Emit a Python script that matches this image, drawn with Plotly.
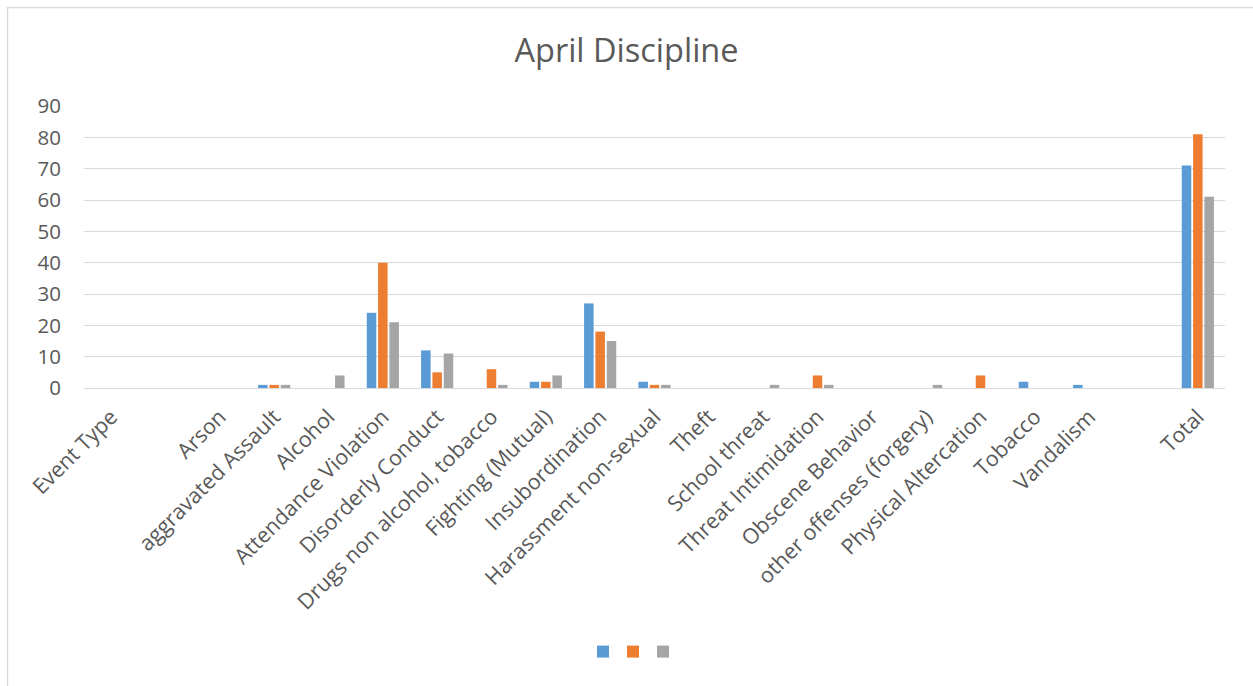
import plotly.graph_objects as go

categories = ["Event Type", " ", "Arson", "aggravated Assault", "Alcohol", "Attendance Violation",
              "Disorderly Conduct", "Drugs non alcohol, tobacco", "Fighting (Mutual)", "Insubordination",
              "Harassment non-sexual", "Theft", "School threat", "Threat Intimidation", "Obscene Behavior",
              "other offenses (forgery)", "Physical Altercation", "Tobacco", "Vandalism", "  ", "Total"]
series_blue = [None, None, 0, 1, 0, 24, 12, 0, 2, 27, 2, 0, 0, 0, 0, 0, 0, 2, 1, None, 71]
series_orange = [None, None, 0, 1, 0, 40, 5, 6, 2, 18, 1, 0, 0, 4, 0, 0, 4, 0, 0, None, 81]
series_gray = [None, None, 0, 1, 4, 21, 11, 1, 4, 15, 1, 0, 1, 1, 0, 1, 0, 0, 0, None, 61]
y_ticks = [0, 10, 20, 30, 40, 50, 60, 70, 80, 90]

colors = ["#5B9BD5", "#ED7D31", "#A5A5A5"]
legend_ids = ["legend", "legend2", "legend3"]
legend_centers = [603, 633, 663]
FONT = "Open Sans"
TXT = "#595959"

xidx = list(range(len(categories)))

W, H = 1253, 686
L, R, T, B = 83.5, 27.5, 105.5, 298

fig = go.Figure()
for vals, col, lg in zip([series_blue, series_orange, series_gray], colors, legend_ids):
    fig.add_trace(go.Bar(x=xidx, y=vals, name="", marker=dict(color=col, line=dict(width=0)),
                         showlegend=True, legend=lg))

legend_layout = {}
for lg, cx in zip(legend_ids, legend_centers):
    legend_layout[lg] = dict(orientation="h", xref="container", yref="container",
                             x=(cx - 20) / W, xanchor="left", y=1 - 652 / H, yanchor="middle",
                             itemwidth=30, font=dict(size=14, color=TXT),
                             bgcolor="rgba(0,0,0,0)", borderwidth=0)

fig.update_layout(
    width=W, height=H,
    margin=dict(l=L, r=R, t=T, b=B, pad=0),
    paper_bgcolor="white", plot_bgcolor="white",
    barmode="group", bargap=0.375, bargroupgap=0.16,
    title=dict(text="April Discipline", x=0.5, xref="container", xanchor="center",
               y=1 - 51 / H, yanchor="middle",
               font=dict(family=FONT, size=32.5, color=TXT)),
    font=dict(family=FONT, color=TXT),
    xaxis=dict(tickmode="array", tickvals=xidx, ticktext=categories, tickangle=-45,
               range=[-0.5, len(categories) - 0.5],
               showgrid=False, showline=False, zeroline=False, ticks="",
               ticklabelstandoff=11,
               tickfont=dict(family=FONT, size=21.5, color=TXT)),
    yaxis=dict(range=[0, 90], tickvals=y_ticks, showgrid=True, gridcolor="#D9D9D9", gridwidth=1.4,
               zeroline=True, zerolinecolor="#D9D9D9", zerolinewidth=1.4,
               showline=False, ticks="", ticklabelstandoff=22,
               tickfont=dict(family=FONT, size=20.5, color=TXT)),
    **legend_layout,
)

# chart frame (decorative border of the chart area)
fig.add_shape(type="rect", xref="paper", yref="paper",
              x0=(7 - L) / (W - L - R), x1=(W + 5 - L) / (W - L - R),
              y0=-(H + 5 - (H - B)) / (H - T - B), y1=((H - B) - 7) / (H - T - B),
              line=dict(color="#D9D9D9", width=1.3), fillcolor="rgba(0,0,0,0)", layer="below")

fig.write_html("out.html", config={"displayModeBar": False},
               post_script="document.body.style.margin='0';")
